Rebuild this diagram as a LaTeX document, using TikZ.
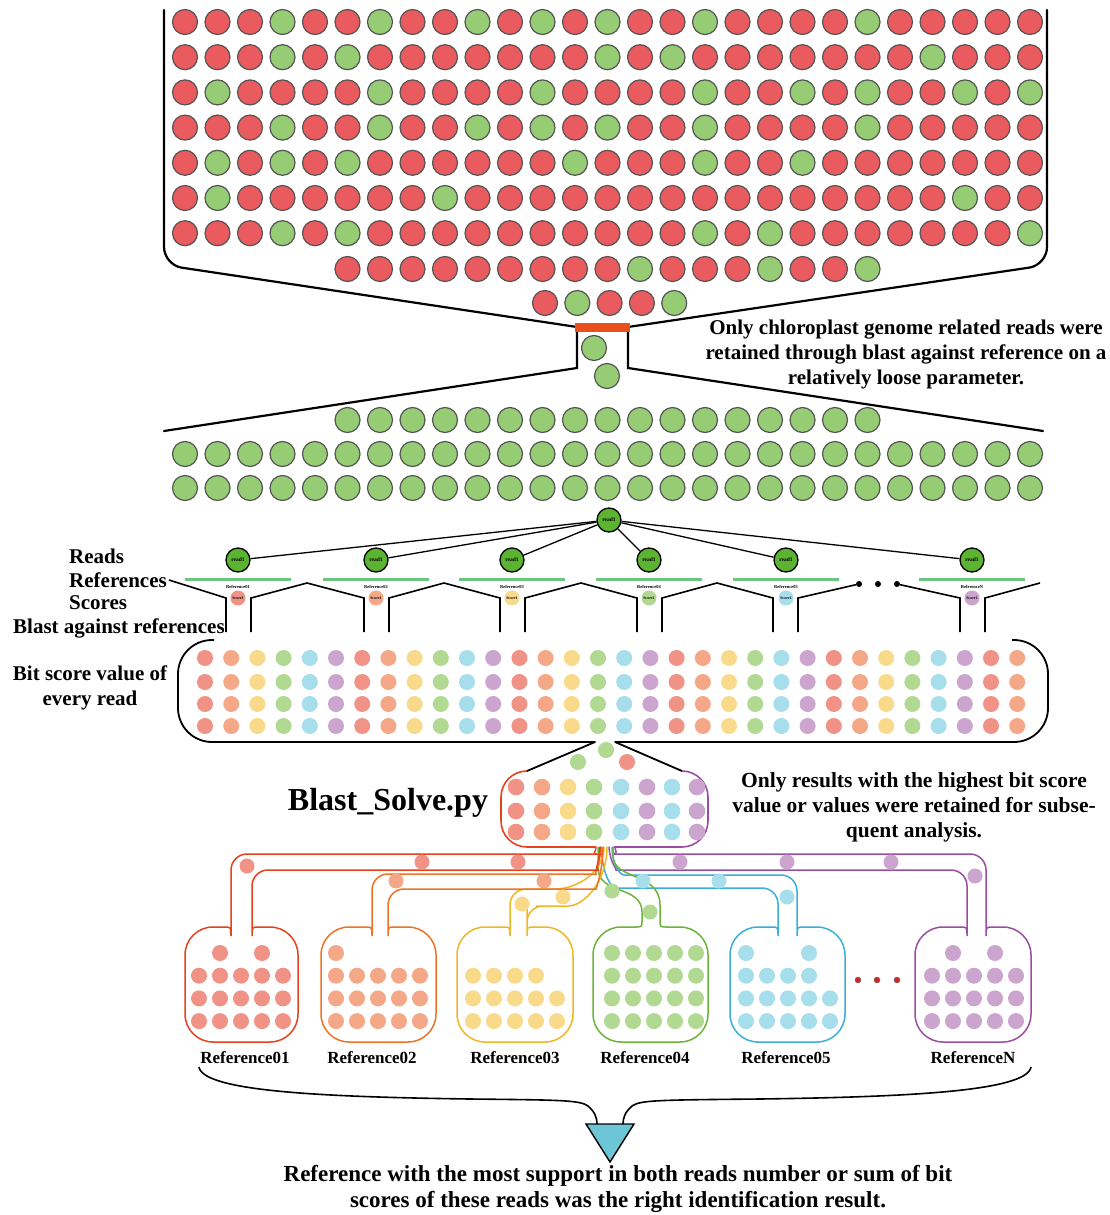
\documentclass[tikz,border=0pt]{standalone}
\usepackage{fontspec}
\setmainfont{Liberation Serif}
\definecolor{cr}{HTML}{E95B5E}
\definecolor{cg}{HTML}{95CC74}
\definecolor{ringc}{HTML}{555555}
\definecolor{rdg}{HTML}{5CB332}
\definecolor{refbar}{HTML}{6CC47E}
\definecolor{pal0}{HTML}{F09386}
\definecolor{pal1}{HTML}{F5A887}
\definecolor{pal2}{HTML}{F8DA8A}
\definecolor{pal3}{HTML}{B1D992}
\definecolor{pal4}{HTML}{A7DEEC}
\definecolor{pal5}{HTML}{CBA5CE}
\definecolor{lS}{HTML}{E5421E}
\definecolor{lO}{HTML}{F07325}
\definecolor{lY}{HTML}{F1B625}
\definecolor{lG}{HTML}{6AB43A}
\definecolor{lB}{HTML}{3AAFD9}
\definecolor{lP}{HTML}{9A4EA2}
\definecolor{barO}{HTML}{E8501C}
\definecolor{tri}{HTML}{6CC6D6}
\definecolor{reddot}{HTML}{D42525}
\newcommand\refshape[9]{% color, gap-outer path, wl, hy, xl, xr, wr, hy2, gap-inner path
  \draw[tube,#1,rounded corners=16pt] #2 -- (#3,#4) -- (#3,920) .. controls (#3,927) .. ({#3-7},927);
  \draw[tube,#1,rounded corners=28pt] ({#3-7},927) -- (#5,927) -- (#5,1042) -- (#6,1042) -- (#6,927) -- ({#7+7},927);
  \draw[tube,#1,rounded corners=16pt] ({#7+7},927) .. controls (#7,927) .. (#7,920) -- (#7,#8) -- #9;
}
\begin{document}
\begin{tikzpicture}[x=1pt,y=-1pt,
 topc/.style={draw=ringc,line width=1.2pt},
 blk/.style={draw=black,line width=2.2pt,line cap=round},
 lbl/.style={inner sep=0pt,font=\fontsize{21}{25}\selectfont\bfseries},
 reflbl/.style={inner sep=0pt,font=\fontsize{17}{19}\selectfont\bfseries},
 readnd/.style={circle,draw=black,line width=1.3pt,fill=rdg,minimum size=24pt,inner sep=0pt,font=\fontsize{5.5}{6}\selectfont\bfseries},
 scorend/.style={circle,minimum size=15pt,inner sep=0pt,font=\fontsize{4}{5}\selectfont\bfseries},
 tinylbl/.style={inner sep=0pt,font=\fontsize{4.5}{5}\selectfont\bfseries},
 tube/.style={line width=1.5pt,line cap=round}
]
\useasboundingbox[fill=white] (0,0) rectangle (1110,1215);

% ---------- top funnel ----------
\draw[blk, rounded corners=18pt] (164,10) -- (164,265) -- (577,327);
\draw[blk, rounded corners=18pt] (1047,10) -- (1047,265) -- (628,327);
\draw[blk] (164,431) -- (577,368) -- (577,332);
\draw[blk] (1043,431) -- (628,368) -- (628,332);
\fill[barO] (575,323) rectangle (630,332);

\foreach \row [count=\j from 0] in {
{0,0,0,1,0,0,1,0,0,1,0,1,0,1,0,0,1,0,0,0,0,1,0,0,0,0,0},
{0,0,0,1,0,1,0,0,0,0,0,0,0,1,0,1,0,0,0,0,0,0,0,1,0,0,0},
{0,1,0,0,0,0,1,0,0,0,0,1,0,0,0,0,1,0,0,1,0,1,0,0,1,0,1},
{0,0,0,1,0,0,1,0,0,1,0,1,0,1,0,0,1,0,0,0,0,1,0,0,0,0,0},
{0,1,0,1,0,1,0,0,0,0,0,0,1,0,0,0,1,0,0,1,0,0,0,0,0,0,0},
{0,1,0,0,0,0,0,0,1,0,0,0,0,0,0,0,0,0,0,0,0,0,0,0,1,0,0},
{0,0,0,1,0,1,0,0,0,0,0,0,0,0,0,0,1,0,1,0,0,0,0,0,0,0,1}}{
  \foreach \c [count=\k from 0] in \row {
    \ifnum\c=1 \def\col{cg}\else\def\col{cr}\fi
    \filldraw[topc,fill=\col] ({185+32.5*\k},{22+35.2*\j}) circle (12.5pt);
  }
}
\foreach \c [count=\k from 5] in {0,0,0,0,0,0,0,0,0,1,0,0,0,1,0,0,1}{
  \ifnum\c=1 \def\col{cg}\else\def\col{cr}\fi
  \filldraw[topc,fill=\col] ({185+32.5*\k},269) circle (12.5pt);
}
\foreach \c [count=\k from 0] in {0,1,0,0,1}{
  \ifnum\c=1 \def\col{cg}\else\def\col{cr}\fi
  \filldraw[topc,fill=\col] ({545+32.3*\k},303) circle (12.5pt);
}
\filldraw[topc,fill=cg] (594,348) circle (12.5pt);
\filldraw[topc,fill=cg] (607,376) circle (12.5pt);

\node[lbl,align=center] (tOnly) at (906,354) {Only chloroplast genome related reads were\\retained through blast against reference on a\\relatively loose parameter.};

% ---------- filtered reads ----------
\foreach \k in {0,...,16} \filldraw[topc,fill=cg] ({185+32.5*(\k+5)},420) circle (12.5pt);
\foreach \j in {0,1} \foreach \k in {0,...,26} \filldraw[topc,fill=cg] ({185+32.5*\k},{454+34*\j}) circle (12.5pt);

% ---------- read tree ----------
\node[readnd] (root) at (609,520) {read1};
\foreach \n/\x/\lab/\col in {1/238/Reference01/pal0, 2/376/Reference02/pal1, 3/512/Reference03/pal2, 4/649/Reference04/pal3, 5/786/Reference05/pal4, 6/972/ReferenceN/pal5}{
  \node[readnd] (rd\n) at (\x,560) {read1};
  \draw[line width=1.3pt] (root) -- (rd\n);
  \draw[refbar,line width=3pt] (\x-53,579) -- (\x+53,579);
  \node[tinylbl] (rl\n) at (\x,587) {\lab};
  \node[scorend,fill=\col] (sc\n) at (\x,598) {Score1};
}
\node[lbl,anchor=west] (tReads) at (69,556) {Reads};
\node[lbl,anchor=west] (tRefs) at (69,580) {References};
\node[lbl,anchor=west] (tScores) at (69,603) {Scores};
\node[lbl,anchor=west] (tBlast) at (13,628) {Blast against references};

\draw[line width=1.6pt] ([xshift=2pt]tRefs.east) -- (226,598) -- (226,632);
\draw[line width=1.6pt] (251,632) -- (251,598) -- (307,583) -- (364,598) -- (364,632);
\draw[line width=1.6pt] (389,632) -- (389,598) -- (444,583) -- (500,598) -- (500,632);
\draw[line width=1.6pt] (525,632) -- (525,598) -- (581,583) -- (637,598) -- (637,632);
\draw[line width=1.6pt] (662,632) -- (662,598) -- (717,583) -- (773,598) -- (773,632);
\node[circle,fill=black,inner sep=0pt,minimum size=6pt] (d1) at (859,584) {};
\node[circle,fill=black,inner sep=0pt,minimum size=6pt] (d2) at (878,584) {};
\node[circle,fill=black,inner sep=0pt,minimum size=6pt] (d3) at (897,584) {};
\draw[line width=1.6pt] (798,632) -- (798,598) -- (d1);
\draw[line width=1.6pt] (d3) -- (960,598) -- (960,632);
\draw[line width=1.6pt] (985,632) -- (985,598) -- (1040,583);

% ---------- bit score box ----------
\draw[line width=1.8pt,rounded corners=34pt] (214,640) -- (178,640) -- (178,742) -- (595,742);
\draw[line width=1.8pt,line cap=round] (595,742) -- (527,771);
\draw[line width=1.8pt,rounded corners=34pt] (1012,640) -- (1048,640) -- (1048,742) -- (615,742);
\draw[line width=1.8pt,line cap=round] (615,742) -- (682,771);
\foreach \k in {0,...,31}{
  \pgfmathtruncatemacro\m{mod(\k,6)}
  \foreach \y in {658,682,704,726} \fill[pal\m] ({205+26.2*\k},\y) circle (8pt);
}
\node[lbl,align=center] (tBit) at (90,688) {Bit score value of\\every read};

% ---------- Blast_Solve ----------
\fill[pal3] (578,762) circle (8pt);
\fill[pal3] (606,750) circle (8pt);
\fill[pal0] (627,762) circle (8pt);
\draw[lS,line width=1.6pt,rounded corners=26pt] (527,771) -- (501,771) -- (501,847) -- (596,847);
\draw[lP,line width=1.6pt,rounded corners=26pt] (682,771) -- (708,771) -- (708,847) -- (614,847);
\foreach \x/\m in {516/0,542/1,568/2,594/3,621/4,647/5,672/4,697/5}
  \foreach \y in {787,811,832} \fill[pal\m] (\x,\y) circle (8.3pt);
\node[inner sep=0pt,font=\fontsize{32}{34}\selectfont\bfseries] (tBS) at (388,803) {Blast\_Solve.py};
\node[lbl,font=\fontsize{21.5}{25}\selectfont\bfseries,align=center] (tRes) at (914,807) {Only results with the highest bit score\\value or values were retained for subse-\\quent analysis.};

% ---------- tubes and reference boxes ----------
\refshape{lP}{(609,847) .. controls (610,864) and (618,870) .. (632,870)}{967}{870}{915}{1031}{986}{854}{(628,854) .. controls (619,854) and (615,851) .. (615,847)}
\refshape{lB}{(601,847) .. controls (603,878) and (612,888) .. (632,888)}{778}{888}{730}{845}{797}{875}{(640,875) .. controls (620,875) and (612,864) .. (612,847)}
\draw[tube,lG] (598,847) -- (598,868) .. controls (598,895) and (642,885) .. (642,912) -- (642,920) .. controls (642,927) .. (635,927);
\draw[tube,lG,rounded corners=28pt] (635,927) -- (593,927) -- (593,1042) -- (708,1042) -- (708,927) -- (667,927);
\draw[tube,lG] (667,927) .. controls (660,927) .. (660,920) -- (660,905) .. controls (660,872) and (613,880) .. (613,856) -- (613,847);
\refshape{lY}{(604,847) .. controls (603,878) and (570,889) .. (540,889)}{510}{889}{457}{573}{527}{906}{(552,906) .. controls (585,906) and (607,880) .. (607,847)}
\refshape{lO}{(601,847) .. controls (600,866) and (594,874) .. (580,874)}{372}{874}{321}{436}{388}{889}{(580,889) .. controls (596,889) and (603,870) .. (603,847)}
\refshape{lS}{(596,847) .. controls (596,852) and (592,854) .. (580,854)}{231}{854}{185}{298}{252}{870}{(582,870) .. controls (594,870) and (600,862) .. (600,847)}

% tube dots
\foreach \p in {(247,866),(422,862),(518,862)} \fill[pal0] \p circle (7.5pt);
\foreach \p in {(396,881),(544,881)} \fill[pal1] \p circle (7.5pt);
\foreach \p in {(522,904),(563,897)} \fill[pal2] \p circle (7.5pt);
\foreach \p in {(612,891),(650,912)} \fill[pal3] \p circle (7.5pt);
\foreach \p in {(643,881),(719,881),(787,897)} \fill[pal4] \p circle (7.5pt);
\foreach \p in {(680,862),(787,862),(891,862),(975,876)} \fill[pal5] \p circle (7.5pt);

% box dots
\foreach \x/\m/\a in {199/0/1, 336/1/1, 473/2/2, 612/3/0, 746/4/2, 932/5/1}
  \foreach \r in {\a,...,3} \foreach \cc in {0,...,4} \fill[pal\m] ({\x+21*\cc},{953+22.7*\r}) circle (8pt);
\fill[pal0] (220,953) circle (8pt); \fill[pal0] (262,953) circle (8pt);
\fill[pal1] (336,953) circle (8pt);
\foreach \cc in {0,...,3} \fill[pal2] ({473+21*\cc},975.7) circle (8pt);
\fill[pal4] (746,953) circle (8pt); \fill[pal4] (809,953) circle (8pt);
\foreach \cc in {0,...,3} \fill[pal4] ({746+21*\cc},975.7) circle (8pt);
\fill[pal5] (953,953) circle (8pt); \fill[pal5] (995,953) circle (8pt);
\foreach \x in {858,877,897} \filldraw[fill=reddot,draw=black!60,line width=0.4pt] (\x,980) circle (3pt);

\node[reflbl] (n1) at (245,1058) {Reference01};
\node[reflbl] (n2) at (372,1058) {Reference02};
\node[reflbl] (n3) at (515,1058) {Reference03};
\node[reflbl] (n4) at (645,1058) {Reference04};
\node[reflbl] (n5) at (786,1058) {Reference05};
\node[reflbl] (n6) at (973,1058) {ReferenceN};

% ---------- brace and result ----------
\coordinate (bl) at (199,1067);
\coordinate (br) at (1031,1067);
\draw[fill=tri,line width=1.4pt] (586,1124) -- (634,1124) -- (610,1162) -- cycle;
\coordinate (tl) at (597,1124);
\coordinate (tr) at (623,1124);
\draw[line width=1.6pt] (bl) .. controls (203,1092) and (330,1097) .. (470,1099) .. controls (560,1100) and (580,1100) .. (588,1106) .. controls (595,1112) and (597,1118) .. (tl);
\draw[line width=1.6pt] (br) .. controls (1027,1092) and (900,1097) .. (760,1099) .. controls (660,1100) and (640,1100) .. (632,1106) .. controls (625,1112) and (623,1118) .. (tr);
\node[lbl,font=\fontsize{23}{26}\selectfont\bfseries,align=center] (tBottom) at (618,1189) {Reference with the most support in both reads number or sum of bit\\scores of these reads was the right identification result.};
\end{tikzpicture}
\end{document}
